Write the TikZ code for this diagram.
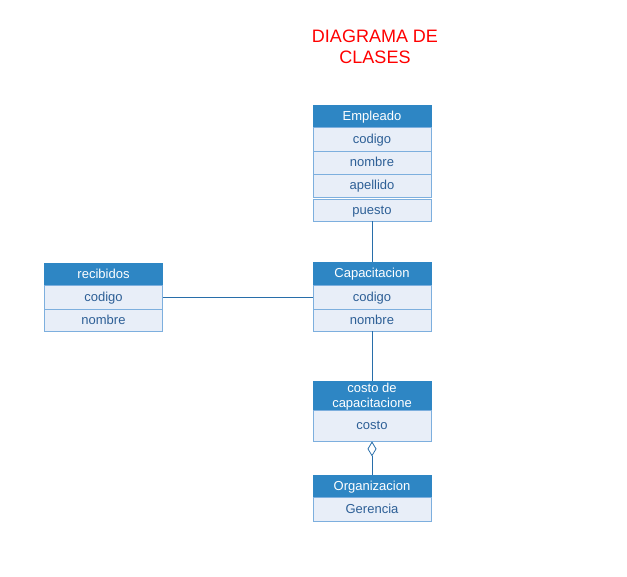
\documentclass[tikz,border=0pt]{standalone}
\usepackage{fontspec}
\setmainfont{Liberation Sans}
\usetikzlibrary{arrows.meta}

\definecolor{hdrblue}{RGB}{46,134,196}
\definecolor{rowfill}{RGB}{232,238,248}
\definecolor{rowline}{RGB}{125,175,222}
\definecolor{rowtext}{RGB}{45,95,150}
\definecolor{linkblue}{RGB}{40,110,170}

\tikzset{
  hdr/.style={draw=hdrblue, fill=hdrblue, text=white, inner sep=0pt,
    minimum width=118pt, text height=10.5pt, text depth=1.5pt,
    font=\fontsize{13}{14}\selectfont},
  hdrlabel/.style={text=white, inner sep=0pt, align=center,
    font=\fontsize{13}{15.5}\selectfont},
  attr/.style={draw=rowline, fill=rowfill, text=rowtext, inner sep=0pt,
    minimum width=118pt, text height=10.5pt, text depth=1.5pt,
    font=\fontsize{13}{14}\selectfont},
  link/.style={draw=linkblue, line width=0.8pt}
}

\begin{document}
\begin{tikzpicture}[x=1pt,y=-1pt,line width=0.8pt]
  \useasboundingbox (0,0) rectangle (627,577);
  % title
  \node[text=red, font=\fontsize{18}{21}\selectfont, align=center] (title) at (375,47) {DIAGRAMA DE\\CLASES};

  % Empleado
  \node[hdr, minimum height=22pt] (emp) at (372,116) {Empleado};
  \node[attr, minimum height=24pt] (emp-codigo) at (372,139) {codigo};
  \node[attr, minimum height=23pt] (emp-nombre) at (372,162.5) {nombre};
  \node[attr, minimum height=23pt] (emp-apellido) at (372,185.5) {apellido};
  \node[attr, minimum height=22pt] (emp-puesto) at (372,210) {puesto};

  % recibidos
  \node[hdr, minimum height=22pt] (rec) at (103.5,274) {recibidos};
  \node[attr, minimum height=24pt] (rec-codigo) at (103.5,297) {codigo};
  \node[attr, minimum height=22pt] (rec-nombre) at (103.5,320) {nombre};

  % Capacitacion
  \node[hdr, minimum height=23pt] (cap) at (372,273.5) {Capacitacion};
  \node[attr, minimum height=24pt] (cap-codigo) at (372,297) {codigo};
  \node[attr, minimum height=22pt] (cap-nombre) at (372,320) {nombre};

  % costo de capacitacione
  \node[hdr, minimum height=29pt] (costo) at (372,395.5) {};
  \node[hdrlabel] (costo-name) at (372,396.5) {costo de\\capacitacione};
  \node[attr, minimum height=31pt] (costo-costo) at (372,425.5) {costo};

  % Organizacion
  \node[hdr, minimum height=22pt] (org) at (372,486) {Organizacion};
  \node[attr, minimum height=24pt] (org-gerencia) at (372,509) {Gerencia};

  % links
  \draw[link] (emp-puesto.south) -- (cap.north);
  \draw[link] (rec-codigo.east) -- (cap-codigo.west);
  \draw[link] (cap-nombre.south) -- (costo.north);
  \draw[link, -{Diamond[open, length=15pt, width=9pt, fill=white]}] (org.north) -- (costo-costo.south);
\end{tikzpicture}
\end{document}
